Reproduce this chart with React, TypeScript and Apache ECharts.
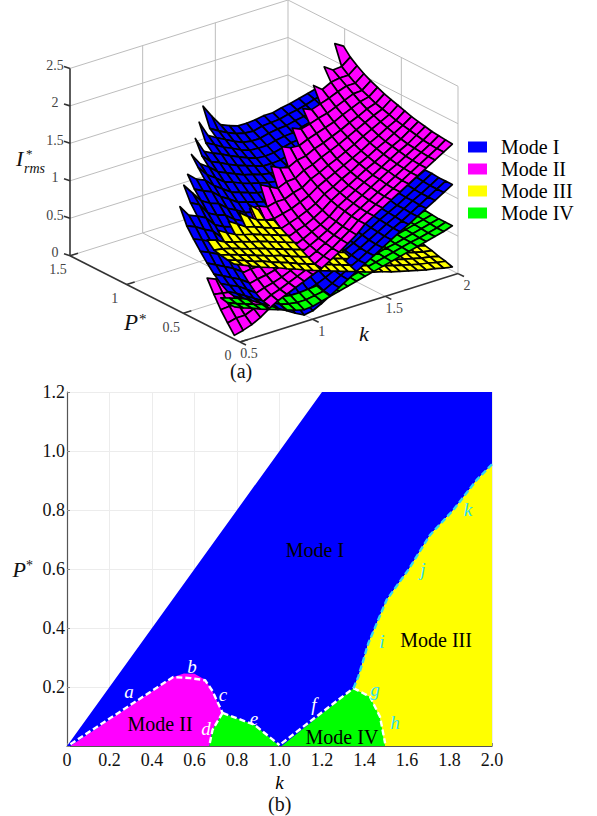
import React, { useEffect, useRef } from "react";
import * as echarts from "echarts";

const SERIF = "'Liberation Serif'";
const MODE_NAMES = ["Mode I", "Mode II", "Mode III", "Mode IV"];
const MODE_COLORS = ["#0000ff", "#ff00ff", "#ffff00", "#00ff00"];

// Surface (a): k rows and P columns, heights in hundredths
const K_ROWS = [0.5,0.56,0.62,0.68,0.74,0.8,0.86,0.92,0.98,1.04,1.1,1.16,1.22,1.28,1.34,1.4,1.46,1.52,1.58,1.64,1.7,1.76,1.82,1.88,1.94,2];
const P_FIRST = 0.05;
const P_STEP = 0.06;

const modeI = [
[57,59,65,73,83,94,106,119,140],
[51,53,59,67,77,89,101,114,125],
[44,46,54,61,71,83,95,107,120,133,152],
[37,39,46,55,65,77,89,101,114,127,138],
[30,32,38,47,57,67,78,89,101,112,124,135,150],
[23,26,33,41,51,62,73,84,95,106,117,129,140],
[16,20,27,37,47,58,69,80,91,102,113,124,135,147,160],
[9,14,22,32,42,52,62,73,83,93,103,114,124,134,144],
[3,10,20,29,39,49,58,68,78,87,97,107,116,126,136,146,165],
[5,10,19,28,36,45,54,63,72,81,90,99,108,117,126,135,144],
[11,14,20,28,36,45,53,62,70,79,87,96,104,113,121,130,138,147,170],
[18,20,24,30,37,45,53,61,69,77,84,92,100,108,116,124,133,141,149],
[25,26,29,34,40,46,53,60,67,74,81,89,96,104,111,119,127,134,142,150,175],
[32,33,35,39,44,50,56,62,68,74,80,87,94,101,108,115,122,129,136,143,158],
[39,40,41,44,48,52,57,62,67,73,79,85,91,98,104,111,117,123,130,137,143],
[46,46,48,50,53,56,60,65,69,74,80,85,91,96,102,107,113,119,125,132,138],
[53,53,54,56,58,61,65,69,73,77,82,87,92,97,102,107,112,118,123,129,134],
[60,60,61,63,65,67,70,74,78,82,85,90,94,99,104,108,113,118,123,128,134],
[67,67,68,69,71,73,76,79,83,86,90,94,98,103,107,112,116,121,126,131,135],
[74,74,75,76,77,79,82,85,88,91,94,98,102,106,110,114,119,123,128,132,137],
[80,80,81,82,83,85,87,90,92,95,98,101,105,109,112,116,120,124,129,133,137],
[87,87,88,88,90,91,93,95,98,100,103,106,110,113,117,120,124,128,132,136,140],
[94,94,95,95,96,98,99,101,103,106,108,111,114,117,120,124,127,131,134,138,142],
[101,101,101,102,103,104,105,107,109,111,113,115,118,121,124,127,130,134,137,141,145],
[108,108,108,109,110,111,112,113,115,117,119,121,124,126,129,132,135,138,141,145,148],
[115,115,115,116,116,117,118,119,121,123,124,126,128,131,133,136,138,141,144,147,151],
];
const modeII = [
[5,17,30,46,63],
[8,20,31,44,58],
[12,20,30,42,56,70],
[18,25,33,43,55,68],
[26,30,37,45,55,65,80],
[33,36,41,48,57,66,78],
[38,40,44,50,57,66,75,90],
[43,45,48,53,60,68,79,92],
[48,50,53,57,63,70,79,90,108],
[53,55,58,62,67,74,83,93,108],
[58,59,62,65,70,76,83,92,103,128],
[65,66,68,71,75,81,87,95,106,122],
[72,73,75,77,81,85,91,98,106,116,141],
[80,81,82,84,87,91,96,103,111,121,135],
[88,89,90,92,94,98,102,108,114,122,132,155],
[99,99,100,102,104,107,111,116,122,129,138,150],
[106,106,107,109,111,114,117,122,127,133,140,149,168],
[113,113,114,116,118,120,124,128,133,139,146,154,163],
[120,120,121,123,125,127,130,134,138,144,150,158,166,182],
[127,127,128,130,131,134,137,140,144,149,155,162,170,177],
[134,134,135,137,138,140,143,146,150,155,160,166,173,181,201],
[141,141,142,143,145,147,150,153,157,161,166,172,178,185,192],
[148,148,149,150,152,154,156,159,163,167,171,177,183,190,198,214],
[155,155,156,157,158,160,163,166,169,173,177,182,188,194,200,206],
[162,162,163,164,166,168,170,172,175,178,181,185,189,194,200,207,233],
[169,170,171,172,174,176,178,181,184,187,190,194,198,203,209,216,226],
];
const modeIII = [
[100,101,103,105,114],
[95,97,100,103,110],
[90,93,96,100,104,115],
[85,88,92,96,100,108],
[81,85,88,92,97,102,115],
[77,80,84,89,93,98,108],
[72,76,80,85,90,95,100,115],
[68,72,77,81,86,91,97,106],
[63,67,72,77,82,87,92,98,113],
[59,63,68,73,78,83,88,94,103],
[55,59,64,69,74,79,84,90,98],
[51,55,60,65,70,75,80,85,92],
[47,51,55,60,65,70,75],
[43,47,51,56,60,65,70],
[39,43,47,51,56,60,65],
[35,39,43,47,51,56,60],
[31,35,39,43,47,51,55],
[28,31,35,39,43,47,51],
[24,28,31,35,38,42,46],
[21,24,28,31,35,38,42],
[18,21,24,28,31,34,38],
[15,18,21,24,27,31,34],
[12,15,18,21,24,27,30],
[10,13,15,18,21,24,27],
[7,10,13,15,18,21,23],
[5,8,10,13,15,18,20],
];
const modeIV = [
[43,44,46],
[38,39,42],
[34,35,38,41],
[29,31,34,38],
[25,27,31,35,39],
[21,24,28,32,36],
[17,20,24,29,34,39],
[13,17,22,27,32,37],
[10,15,20,25,30,35,40],
[11,15,20,24,29,34,39],
[14,17,21,25,29,34,38],
[17,19,22,26,30,34,38],
[20,22,25,28,31,35,38],
[23,25,27,30,33,36,39],
[26,27,29,32,34,37,40],
[29,30,32,34,36,39,42],
[32,33,34,36,38,41,43],
[35,36,37,39,41,43,45],
[38,39,40,41,43,45,47],
[41,42,43,44,46,47,49],
[44,45,45,47,48,50,52],
[47,48,48,49,51,52,54],
[50,50,51,52,53,55,56],
[53,53,54,55,56,57,59],
[56,56,57,58,59,60,61],
[60,60,60,61,62,63,64],
];
const SURFACES = [modeI, modeII, modeIII, modeIV];

const Z_TICKS = [0, 0.5, 1, 1.5, 2, 2.5];
const Z_TICK_LABELS = ["0", "0.5", "1", "1.5", "2", "2.5"];
const P3_TICKS = [0, 0.5, 1, 1.5];
const P3_TICK_LABELS = ["0", "0.5", "1", "1.5"];
const K3_TICKS = [0.5, 1, 1.5, 2];
const K3_TICK_LABELS = ["0.5", "1", "1.5", "2"];

// Panel (b): region outlines in (k, P*)
const arcAB = [[0.016,0.006],[0.5,0.234],[0.58,0.23],[0.65,0.223],[0.685,0.186],[0.732,0.112]];
const arcD = [[0.732,0.112],[0.685,0.055],[0.67,0.003]];
const arcE = [[0.732,0.112],[0.882,0.072],[1.0,0.003]];
const arcF = [[1.01,0.009],[1.348,0.196]];
const arcH = [[1.348,0.196],[1.426,0.167],[1.473,0.099],[1.497,0.009]];
const arcIJK = [[1.348,0.196],[1.371,0.235],[1.418,0.348],[1.504,0.495],[1.606,0.597],[1.708,0.715],[1.818,0.8],[1.928,0.902],[2,0.955]];
const regionI = [[0,0],[1.2,1.2],[2,1.2],...arcIJK.slice().reverse(),[1.5,0]];
const regionII = [[0.016,0],[0.5,0.234],[0.55,0.246],[0.6,0.245],[0.65,0.225],[0.685,0.186],[0.732,0.112],[0.685,0.055],[0.67,0]];
const regionIVa = [[0.67,0],[0.685,0.055],[0.732,0.112],[0.882,0.072],[1.0,0]];
const regionIVb = [[1.01,0],[1.348,0.196],[1.426,0.167],[1.473,0.099],[1.497,0]];
const regionIII = [...arcIJK,[2,0],[1.497,0],[1.473,0.099],[1.426,0.167]];
const REGIONS = [regionI, regionII, regionIVa, regionIVb, regionIII];
const REGION_COLORS = [MODE_COLORS[0], MODE_COLORS[1], MODE_COLORS[3], MODE_COLORS[3], MODE_COLORS[2]];

const LETTERS = ["a","b","c","d","e","f","g","h","i","j","k"];
const LETTER_POS = [[0.292,0.186],[0.588,0.268],[0.734,0.176],[0.654,0.058],[0.88,0.092],[1.162,0.139],[1.449,0.193],[1.544,0.081],[1.482,0.353],[1.675,0.6],[1.887,0.803]];
const LETTER_COLORS = ["#fff","#fff","#fff","#fff","#fff","#fff","#33e0f5","#33e0f5","#33e0f5","#33e0f5","#33e0f5"];
const MODE_POS = [[1.167,0.664],[0.438,0.075],[1.737,0.359],[1.294,0.03]];

// Orthographic projection of the 3D box on the flat helper grid
const project = (k: number, P: number, z: number) => {
  const X = (k - 0.5) / 1.5, Y = P / 1.5, Z = z / 2.5;
  return [X * 218 - Y * 170, X * 69 + Y * 87 + Z * 189];
};
const depth = (k: number, P: number, z: number) => {
  const X = (k - 0.5) / 1.5, Y = P / 1.5, Z = z / 2.5;
  return -0.915 * (0.616 * X + 0.788 * Y) + 0.305 * Z;
};

function buildQuads() {
  const quads: any[] = [];
  SURFACES.forEach((tbl, s) => {
    for (let i = 0; i + 1 < tbl.length; i++) {
      const n = Math.min(tbl[i].length, tbl[i + 1].length);
      for (let j = 0; j + 1 < n; j++) {
        const corners = [[i, j], [i + 1, j], [i + 1, j + 1], [i, j + 1]];
        const pts: number[] = [];
        let d = 0;
        corners.forEach(([a, b]) => {
          const k = K_ROWS[a], P = P_FIRST + P_STEP * b, z = tbl[a][b] / 100;
          pts.push(...project(k, P, z));
          d += depth(k, P, z);
        });
        quads.push({ d, value: [pts[0], pts[1], s, ...pts] });
      }
    }
  });
  quads.sort((a, b) => a.d - b.d);
  return quads.map((q) => q.value);
}

function segs(list: number[][][]) {
  return list.map(([a, b]) => {
    const p = project(a[0], a[1], a[2]), q = project(b[0], b[1], b[2]);
    return [p[0], p[1], q[0], q[1]];
  });
}

function boxLines() {
  const out: number[][][] = [];
  Z_TICKS.forEach((z) => {
    out.push([[0.5, 1.5, z], [2, 1.5, z]]);
    out.push([[2, 1.5, z], [2, 0, z]]);
  });
  K3_TICKS.slice(1).forEach((k) => out.push([[k, 1.5, 0], [k, 1.5, 2.5]]));
  P3_TICKS.slice(0, 3).forEach((P) => out.push([[2, P, 0], [2, P, 2.5]]));
  K3_TICKS.slice(1, 3).forEach((k) => out.push([[k, 0, 0], [k, 1.5, 0]]));
  P3_TICKS.slice(1, 3).forEach((P) => out.push([[0.5, P, 0], [2, P, 0]]));
  return segs(out);
}

function frontLines() {
  const out = segs([
    [[0.5, 1.5, 0], [0.5, 1.5, 2.5]],
    [[0.5, 1.5, 0], [0.5, 0, 0]],
    [[0.5, 0, 0], [2, 0, 0]],
  ]);
  Z_TICKS.forEach((z) => {
    const p = project(0.5, 1.5, z);
    out.push([p[0], p[1], p[0] - 6, p[1] + 2]);
  });
  P3_TICKS.forEach((P) => {
    const p = project(0.5, P, 0);
    out.push([p[0], p[1], p[0] + 8, p[1] + 2.5]);
  });
  K3_TICKS.forEach((k) => {
    const p = project(k, 0, 0);
    out.push([p[0], p[1], p[0] + 6, p[1] - 3]);
  });
  return out;
}

function tickTexts() {
  const out: any[] = [];
  Z_TICKS.forEach((z, i) => {
    const p = project(0.5, 1.5, z);
    out.push({ t: Z_TICK_LABELS[i], v: [p[0] - 15, p[1] + 3] });
  });
  P3_TICKS.forEach((P, i) => {
    const p = project(0.5, P, 0);
    out.push({ t: P3_TICK_LABELS[i], v: [p[0] - 12, p[1] - 14] });
  });
  K3_TICKS.forEach((k, i) => {
    const p = project(k, 0, 0);
    out.push({ t: K3_TICK_LABELS[i], v: [p[0] + 9, p[1] - 12] });
  });
  return out;
}

const lineSeries = (data: number[][], color: string, width: number, z: number) => ({
  type: "custom",
  xAxisIndex: 0,
  yAxisIndex: 0,
  z,
  silent: true,
  data,
  encode: { x: 0, y: 1 },
  renderItem: (_: any, api: any) => {
    const a = api.coord([api.value(0), api.value(1)]);
    const b = api.coord([api.value(2), api.value(3)]);
    return { type: "line", shape: { x1: a[0], y1: a[1], x2: b[0], y2: b[1] }, style: { stroke: color, lineWidth: width } };
  },
});

const dashed = (data: number[][], color: string) => ({
  type: "line",
  xAxisIndex: 1,
  yAxisIndex: 1,
  data,
  z: 5,
  showSymbol: false,
  silent: true,
  lineStyle: { color, width: 2.4, type: [6, 3] },
});

function buildOption() {
  const ticks3 = tickTexts();
  const legendSeries = MODE_NAMES.map((name, i) => ({
    type: "custom",
    name,
    xAxisIndex: 0,
    yAxisIndex: 0,
    data: [],
    itemStyle: { color: MODE_COLORS[i] },
    renderItem: () => null,
  }));
  return {
    animation: false,
    backgroundColor: "#fff",
    textStyle: { fontFamily: SERIF },
    legend: {
      left: 468,
      top: 137,
      padding: 0,
      orient: "vertical",
      selectedMode: false,
      itemWidth: 19,
      itemHeight: 11,
      itemGap: 2,
      icon: "rect",
      data: MODE_NAMES,
      textStyle: { fontFamily: SERIF, fontSize: 20, color: "#000", padding: [0, 0, 0, 9] },
    },
    grid: [
      { left: 70, width: 388, top: -3, height: 345 },
      { left: 67, width: 425, top: 392, height: 354 },
    ],
    xAxis: [
      { type: "value", gridIndex: 0, min: -170, max: 218, show: false },
      {
        type: "value",
        gridIndex: 1,
        min: 0,
        max: 2,
        interval: 0.2,
        name: "k",
        nameLocation: "middle",
        nameGap: 27,
        nameTextStyle: { fontFamily: SERIF, fontStyle: "italic", fontSize: 19, color: "#000" },
        axisLine: { lineStyle: { color: "#555", width: 1.2 } },
        axisTick: { show: true, inside: true, length: 3, lineStyle: { color: "#888" } },
        axisLabel: { fontFamily: SERIF, fontSize: 18, color: "#111", margin: 5, formatter: (v: number) => (v === 0 ? "0" : v.toFixed(1)) },
        splitLine: { show: true, lineStyle: { color: "#ececec", width: 1 } },
      },
    ],
    yAxis: [
      { type: "value", gridIndex: 0, min: 0, max: 345, show: false },
      {
        type: "value",
        gridIndex: 1,
        min: 0,
        max: 1.2,
        interval: 0.2,
        name: "{i|P}{s|*}",
        nameLocation: "middle",
        nameRotate: 0,
        nameGap: 34,
        nameTextStyle: {
          rich: {
            i: { fontFamily: SERIF, fontStyle: "italic", fontSize: 22, color: "#111" },
            s: { fontFamily: SERIF, fontSize: 14, color: "#111", verticalAlign: "top" },
          },
        },
        axisLine: { show: true, lineStyle: { color: "#555", width: 1.2 } },
        axisTick: { show: true, inside: true, length: 3, lineStyle: { color: "#888" } },
        axisLabel: { fontFamily: SERIF, fontSize: 18, color: "#111", margin: 2, formatter: (v: number) => (v === 0 ? "" : v.toFixed(1)) },
        splitLine: { show: true, lineStyle: { color: "#ececec", width: 1 } },
      },
    ],
    graphic: [
      { type: "text", x: 16, y: 147, style: { text: "I", font: `italic 22px ${SERIF}`, fill: "#111" } },
      { type: "text", x: 26, y: 147, style: { text: "*", font: `13px ${SERIF}`, fill: "#111" } },
      { type: "text", x: 24, y: 161, style: { text: "rms", font: `italic 14px ${SERIF}`, fill: "#111" } },
      { type: "text", x: 124, y: 311, style: { text: "P", font: `italic 23px ${SERIF}`, fill: "#111" } },
      { type: "text", x: 139, y: 311, style: { text: "*", font: `15px ${SERIF}`, fill: "#111" } },
      { type: "text", x: 359, y: 322, style: { text: "k", font: `italic 22px ${SERIF}`, fill: "#111" } },
      { type: "text", x: 230, y: 361, style: { text: "(a)", font: `20px ${SERIF}`, fill: "#111" } },
      { type: "text", x: 268, y: 794, style: { text: "(b)", font: `20px ${SERIF}`, fill: "#111" } },
    ],
    series: [
      lineSeries(boxLines(), "#bdbdbd", 1, 1),
      {
        type: "custom",
        xAxisIndex: 0,
        yAxisIndex: 0,
        z: 2,
        silent: true,
        data: buildQuads(),
        encode: { x: 0, y: 1 },
        renderItem: (_: any, api: any) => {
          const points = [3, 5, 7, 9].map((n) => api.coord([api.value(n), api.value(n + 1)]));
          return {
            type: "polygon",
            shape: { points },
            style: { fill: MODE_COLORS[api.value(2)], stroke: "#000", lineWidth: 1.7, lineJoin: "round" },
          };
        },
      },
      lineSeries(frontLines(), "#333", 1.6, 3),
      {
        type: "custom",
        xAxisIndex: 0,
        yAxisIndex: 0,
        z: 4,
        silent: true,
        data: ticks3.map((t) => t.v),
        encode: { x: 0, y: 1 },
        renderItem: (params: any, api: any) => {
          const c = api.coord([api.value(0), api.value(1)]);
          return {
            type: "text",
            style: { text: ticks3[params.dataIndex].t, x: c[0], y: c[1], align: "center", verticalAlign: "middle", font: `14px ${SERIF}`, fill: "#444" },
          };
        },
      },
      ...legendSeries,
      {
        type: "custom",
        xAxisIndex: 1,
        yAxisIndex: 1,
        z: 3,
        silent: true,
        data: REGIONS.map((r) => r[0]),
        encode: { x: 0, y: 1 },
        renderItem: (params: any, api: any) => ({
          type: "polygon",
          shape: { points: REGIONS[params.dataIndex].map((p) => api.coord(p)) },
          style: { fill: REGION_COLORS[params.dataIndex] },
        }),
      },
      dashed(arcAB, "#fff"),
      dashed(arcD, "#fff"),
      dashed(arcE, "#fff"),
      dashed(arcF, "#fff"),
      dashed(arcH, "#fff"),
      dashed(arcIJK, "#33d6f0"),
      {
        type: "custom",
        xAxisIndex: 1,
        yAxisIndex: 1,
        z: 6,
        silent: true,
        data: LETTER_POS,
        encode: { x: 0, y: 1 },
        renderItem: (params: any, api: any) => {
          const c = api.coord([api.value(0), api.value(1)]);
          return {
            type: "text",
            style: { text: LETTERS[params.dataIndex], x: c[0], y: c[1], align: "center", verticalAlign: "middle", font: `italic 19px ${SERIF}`, fill: LETTER_COLORS[params.dataIndex] },
          };
        },
      },
      {
        type: "custom",
        xAxisIndex: 1,
        yAxisIndex: 1,
        z: 6,
        silent: true,
        data: MODE_POS,
        encode: { x: 0, y: 1 },
        renderItem: (params: any, api: any) => {
          const c = api.coord([api.value(0), api.value(1)]);
          return {
            type: "text",
            style: { text: MODE_NAMES[params.dataIndex], x: c[0], y: c[1], align: "center", verticalAlign: "middle", font: `20px ${SERIF}`, fill: "#000" },
          };
        },
      },
    ],
  };
}

export default function App() {
  const ref = useRef<HTMLDivElement>(null);
  useEffect(() => {
    document.body.style.margin = "0";
    const chart = echarts.init(ref.current as HTMLDivElement, undefined, { renderer: "svg" });
    chart.setOption(buildOption() as any);
    return () => chart.dispose();
  }, []);
  return <div ref={ref} style={{ position: "absolute", left: 0, top: 0, width: 597, height: 816 }} />;
}
